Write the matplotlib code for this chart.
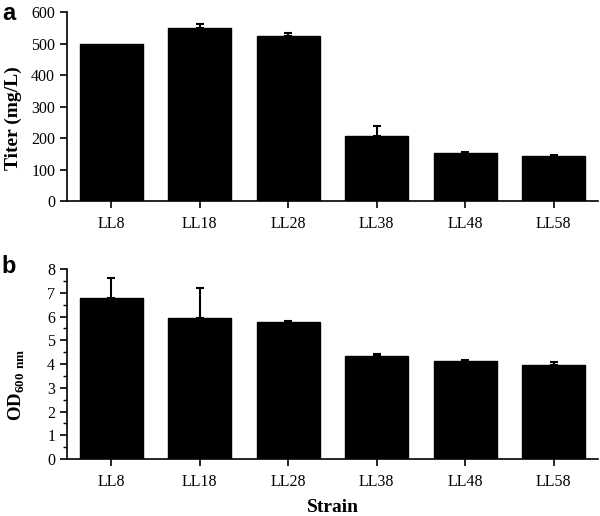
import matplotlib
matplotlib.use('Agg')
import matplotlib.pyplot as plt
from matplotlib.ticker import MultipleLocator

# Data
strains = ['LL8', 'LL18', 'LL28', 'LL38', 'LL48', 'LL58']
titer = [500, 550, 524, 208, 153, 142]
titer_err = [0, 11, 10, 31, 2, 5]
od600 = [6.79, 5.94, 5.78, 4.34, 4.13, 3.97]
od600_err = [0.84, 1.25, 0.05, 0.08, 0.03, 0.10]

plt.rcParams['font.family'] = ['Liberation Serif', 'DejaVu Serif']
plt.rcParams['mathtext.fontset'] = 'custom'
plt.rcParams['mathtext.rm'] = 'Liberation Serif'
plt.rcParams['mathtext.bf'] = 'Liberation Serif:bold'

fig = plt.figure(figsize=(6, 5.16), dpi=100)
ax1 = fig.add_axes([0.1117, 0.6105, 0.885, 0.366])
ax2 = fig.add_axes([0.1117, 0.1105, 0.885, 0.368])

x = list(range(len(strains)))


def style_axis(ax):
	for side in ['top', 'right']:
		ax.spines[side].set_visible(False)
	for side in ['left', 'bottom']:
		ax.spines[side].set_linewidth(1.2)
	ax.tick_params(axis='both', which='major', direction='out', length=5,
		width=1.2, labelsize=11.5)
	ax.tick_params(axis='both', which='minor', direction='out', length=3,
		width=1.0)
	ax.set_xlim(-0.5, 5.5)
	ax.set_xticks(x)
	ax.set_xticklabels(strains)
	ax.tick_params(axis='x', pad=6)


def add_errors(ax, vals, errs):
	# only the upper half of each error bar is drawn, skip zero errors
	idx = [i for i in x if errs[i] > 0]
	ax.errorbar([x[i] for i in idx], [vals[i] for i in idx],
		yerr=[[0] * len(idx), [errs[i] for i in idx]], fmt='none',
		ecolor='black', elinewidth=1.5, capsize=3, capthick=1.5, zorder=3)


# Panel a
ax1.bar(x, titer, width=0.71, color='black', edgecolor='black', zorder=2)
add_errors(ax1, titer, titer_err)
style_axis(ax1)
ax1.set_ylim(0, 600)
ax1.yaxis.set_major_locator(MultipleLocator(100))
ax1.set_ylabel('Titer (mg/L)', fontsize=14, fontweight='bold')
ax1.yaxis.set_label_coords(-0.084, 0.44)

# Panel b
ax2.bar(x, od600, width=0.71, color='black', edgecolor='black', zorder=2)
add_errors(ax2, od600, od600_err)
style_axis(ax2)
ax2.set_ylim(0, 8)
ax2.yaxis.set_major_locator(MultipleLocator(1))
ax2.yaxis.set_minor_locator(MultipleLocator(0.5))
ax2.set_ylabel(r'$\mathbf{OD}_{\mathbf{600\ nm}}$', fontsize=13.5)
ax2.yaxis.set_label_coords(-0.076, 0.39)
ax2.set_xlabel('Strain', fontsize=14, fontweight='bold', labelpad=6)

# Panel letters
fig.text(0.003, 0.997, 'a', fontsize=17, fontweight='bold',
	family=['Liberation Sans', 'DejaVu Sans'], va='top', ha='left')
fig.text(0.003, 0.505, 'b', fontsize=17, fontweight='bold',
	family=['Liberation Sans', 'DejaVu Sans'], va='top', ha='left')

fig.savefig('out.png', dpi=100)
